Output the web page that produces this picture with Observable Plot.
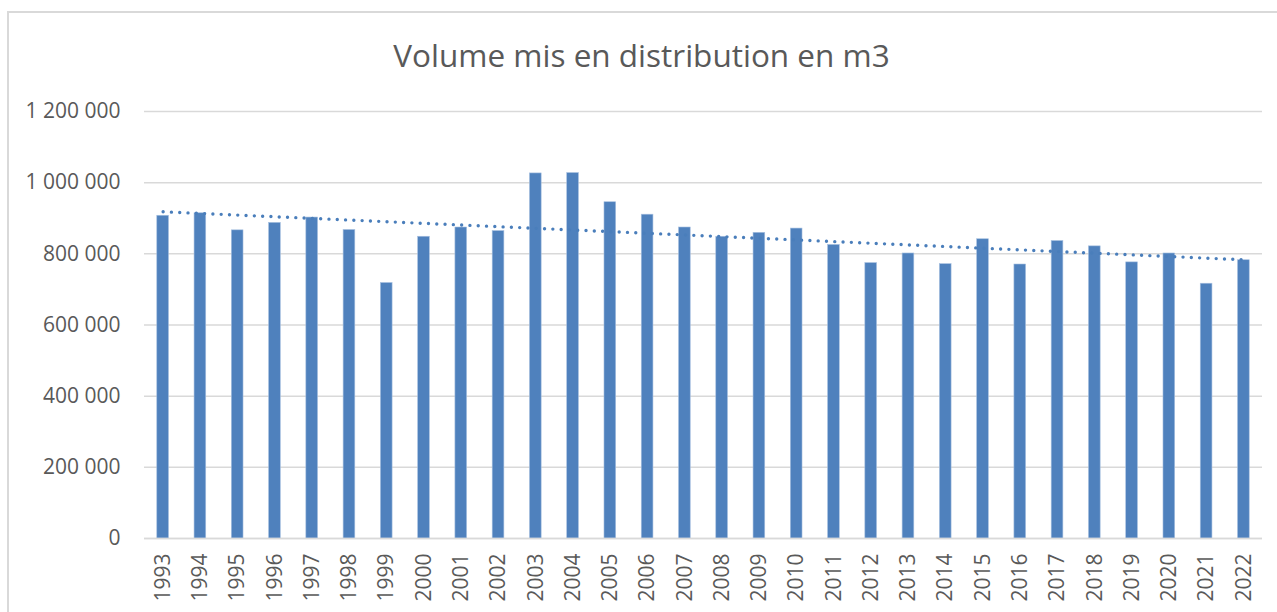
<!DOCTYPE html>
<html>
<head>
<meta charset="utf-8">
<script src="https://cdn.jsdelivr.net/npm/d3@7"></script>
<script src="https://cdn.jsdelivr.net/npm/@observablehq/plot@0.6"></script>
<style>
  html, body { margin: 0; padding: 0; background: #fff; }
  #wrap { position: relative; width: 1277px; height: 612px; overflow: hidden; font-family: "Open Sans", sans-serif; }
  #frame { position: absolute; left: 7px; top: 11px; width: 1300px; height: 700px; border-left: 2px solid #d9d9d9; border-top: 2px solid #d9d9d9; }
  #title { position: absolute; left: 0; width: 1283px; top: 35px; text-align: center; font-size: 31.5px; color: #595959; line-height: 40px; }
  #chart { position: absolute; left: 0; top: 0; }
</style>
</head>
<body>
<div id="wrap">
  <div id="frame"></div>
  <div id="chart"></div>
  <div id="title">Volume mis en distribution en m3</div>
</div>
<script>
const years = ["1993","1994","1995","1996","1997","1998","1999","2000","2001","2002",
  "2003","2004","2005","2006","2007","2008","2009","2010","2011","2012",
  "2013","2014","2015","2016","2017","2018","2019","2020","2021","2022"];
const volumes = [907000, 914000, 866000, 887000, 902000, 867000, 718000, 848000, 874000, 864000,
  1026000, 1027000, 945000, 910000, 874000, 848000, 859000, 871000, 825000, 774000,
  801000, 771000, 841000, 770000, 836000, 821000, 776000, 801000, 716000, 782000];
const yTicks = [0, 200000, 400000, 600000, 800000, 1000000, 1200000];

const data = years.map((y, i) => ({year: y, value: volumes[i], i}));

// least-squares linear trend over the category index
const mx = d3.mean(data, d => d.i), my = d3.mean(data, d => d.value);
const slope = d3.sum(data, d => (d.i - mx) * (d.value - my)) / d3.sum(data, d => (d.i - mx) ** 2);
const intercept = my - slope * mx;
const trend = data.map(d => ({year: d.year, value: intercept + slope * d.i}));

const fmt = d3.formatLocale({decimal: ",", thousands: " ", grouping: [3], currency: ["", " €"]}).format(",d");

const chart = Plot.plot({
  width: 1277,
  height: 612,
  marginTop: 111,
  marginBottom: 74,
  marginLeft: 144,
  marginRight: 15,
  style: {background: "transparent", fontFamily: "Open Sans, sans-serif", color: "#595959", overflow: "visible"},
  x: {domain: years, paddingInner: 0.686, paddingOuter: 0.343, round: false, label: null},
  y: {domain: [0, 1200000], label: null},
  marks: [
    Plot.gridY(yTicks, {stroke: "#d9d9d9", strokeOpacity: 1, strokeWidth: 1.5}),
    Plot.barY(data, {x: "year", y: "value", fill: "#4f81bd", stroke: "#a7c0e0", strokeWidth: 0.6}),
    Plot.ruleY([0], {stroke: "#d9d9d9", strokeWidth: 1.5}),
    Plot.line(trend, {x: "year", y: "value", stroke: "#4a7ebb", strokeWidth: 3.4, strokeDasharray: "0 8.3", strokeLinecap: "round"}),
    Plot.axisY(yTicks, {tickFormat: fmt, tickSize: 0, tickPadding: 24, fontSize: 21, fill: "#595959", label: null}),
    Plot.axisX({tickRotate: -90, tickSize: 0, tickPadding: 15, fontSize: 21, fill: "#595959", label: null})
  ]
});
document.getElementById("chart").appendChild(chart);
</script>
</body>
</html>
